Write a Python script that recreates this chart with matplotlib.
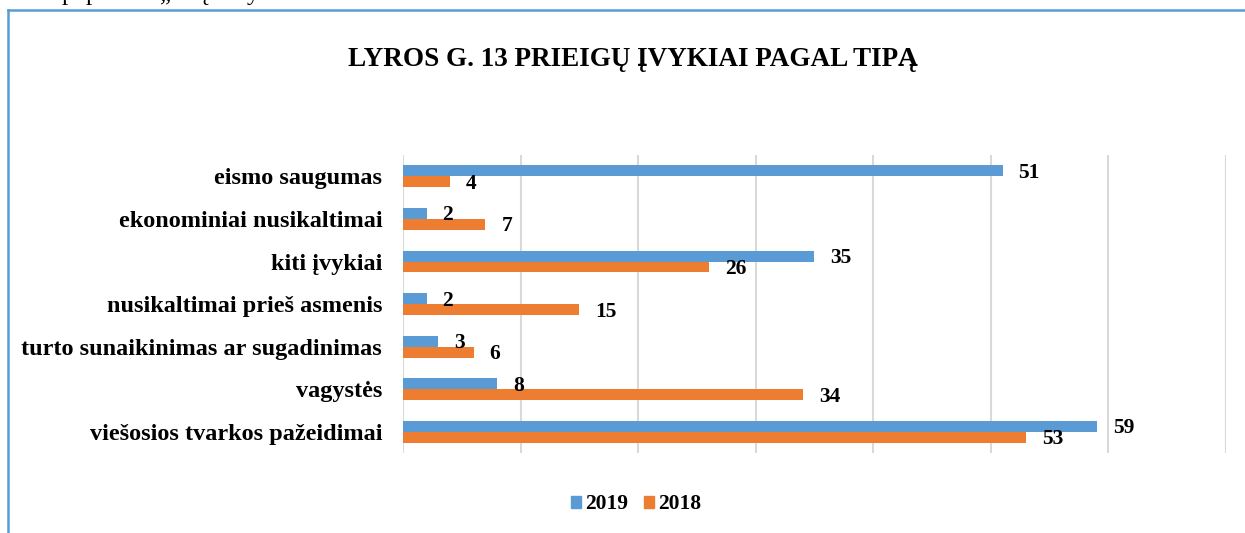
import matplotlib
matplotlib.use("Agg")
import matplotlib.pyplot as plt
from matplotlib.lines import Line2D
from matplotlib.patches import Patch

plt.rcParams['font.family'] = ['Liberation Serif', 'DejaVu Serif']

categories = ['eismo saugumas', 'ekonominiai nusikaltimai', 'kiti įvykiai',
              'nusikaltimai prieš asmenis', 'turto sunaikinimas ar sugadinimas',
              'vagystės', 'viešosios tvarkos pažeidimai']
v2019 = [51, 2, 35, 2, 3, 8, 59]
v2018 = [4, 7, 26, 15, 6, 34, 53]
title = 'LYROS G. 13 PRIEIGŲ ĮVYKIAI PAGAL TIPĄ'

BLUE = '#5B9BD5'
ORANGE = '#ED7D31'
GRID = '#D9D9D9'

fig = plt.figure(figsize=(12.45, 5.33), dpi=100)
ax = fig.add_axes([0.3237, 0.150, 0.661, 0.559])

h = 0.258
pos = list(range(len(categories)))
b1 = ax.barh([p - h / 2 for p in pos], v2019, height=h, color=BLUE, label='2019')
b2 = ax.barh([p + h / 2 for p in pos], v2018, height=h, color=ORANGE, label='2018')

for bars, vals in ((b1, v2019), (b2, v2018)):
    for bar, v in zip(bars, vals):
        ax.annotate(str(v), (bar.get_width(), bar.get_y() + bar.get_height() / 2),
                    xytext=(16, -2), textcoords='offset pixels',
                    ha='left', va='center', fontsize=15.5, fontweight='bold')

ax.set_xlim(0, 70)
ax.set_xticks(range(0, 71, 10))
ax.set_xticklabels([])
ax.set_ylim(len(categories) - 0.5, -0.5)
ax.set_yticks(pos)
ax.set_yticklabels(categories, fontsize=17.5, fontweight='bold')
ax.tick_params(length=0, pad=15)
ax.xaxis.grid(True, color=GRID, linewidth=1.5)
ax.set_axisbelow(True)
for s in ax.spines.values():
    s.set_visible(False)

fig.text(0.508, 0.888, title, ha='center', va='center', fontsize=19.5, fontweight='bold')

handles = [Patch(color=BLUE), Patch(color=ORANGE)]
fig.legend(handles, ['2019', '2018'], loc='center', bbox_to_anchor=(0.511, 0.054),
           ncol=2, frameon=False, prop={'size': 15.5, 'weight': 'bold'},
           handlelength=0.48, handleheight=0.48, handletextpad=0.2, columnspacing=0.72)

# frame around the chart and cropped line of text above it
fig.add_artist(Line2D([8 / 1245, 8 / 1245], [0, 1 - 10 / 533], color=BLUE, linewidth=1.8))
fig.add_artist(Line2D([8 / 1245, 1], [1 - 10 / 533, 1 - 10 / 533], color=BLUE, linewidth=1.8))
for x, ch in ((62, 'p'), (86, 'p'), (160, '„'), (201, 'į'), (247, 'y')):
    fig.text(x / 1245, 1.0, ch, ha='left', va='baseline', fontsize=18)

fig.savefig('out.png', dpi=100)
